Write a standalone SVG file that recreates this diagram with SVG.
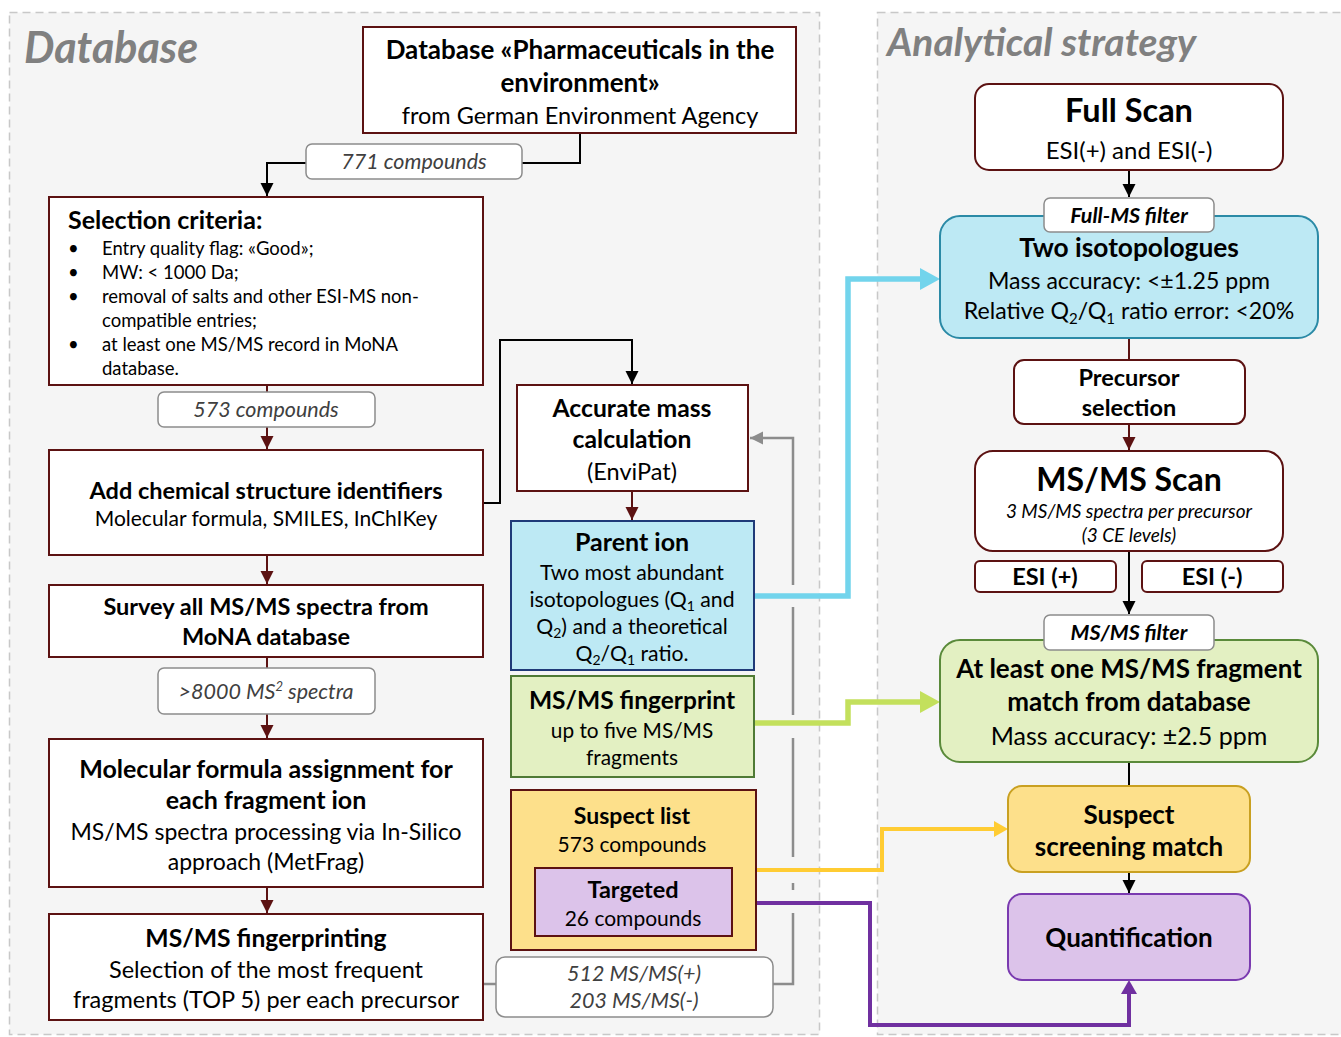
<svg xmlns="http://www.w3.org/2000/svg" width="1341" height="1037" viewBox="0 0 1341 1037">
<style>
text{font-family:Lato,"Open Sans","Liberation Sans",sans-serif;fill:#000;text-anchor:middle}
.b{font-weight:bold}
.i{font-style:italic}
.lbl{font-style:italic;fill:#404040;font-size:21.5px}
.title{font-weight:bold;font-style:italic;fill:#808080;text-anchor:start}
.box{fill:#fff;stroke:#5c1212;stroke-width:2}
.lbox{fill:#fff;stroke:#8c8c8c;stroke-width:1.5}
.panel{fill:#f5f5f5;stroke:#c8c8c8;stroke-width:1.5;stroke-dasharray:8 5}
.ck{fill:none;stroke:#000;stroke-width:2}
.cr{fill:none;stroke:#5c1212;stroke-width:2}
.cg{fill:none;stroke:#8c8c8c;stroke-width:2.5}
.l{text-anchor:start}
</style>
<defs>
<marker id="ak" markerUnits="userSpaceOnUse" markerWidth="14" markerHeight="14" refX="13" refY="7" orient="auto"><path d="M0,0.5 L13,7 L0,13.5 z" fill="#000"/></marker>
<marker id="ar" markerUnits="userSpaceOnUse" markerWidth="14" markerHeight="14" refX="13" refY="7" orient="auto"><path d="M0,0.5 L13,7 L0,13.5 z" fill="#5c1212"/></marker>
<marker id="ag" markerUnits="userSpaceOnUse" markerWidth="14" markerHeight="14" refX="13" refY="7" orient="auto"><path d="M0,0.5 L13,7 L0,13.5 z" fill="#8c8c8c"/></marker>
<marker id="ab" markerUnits="userSpaceOnUse" markerWidth="22" markerHeight="22" refX="0" refY="11" orient="auto"><path d="M0,0 L20,11 L0,22 z" fill="#72d4ec"/></marker>
<marker id="agr" markerUnits="userSpaceOnUse" markerWidth="22" markerHeight="22" refX="0" refY="11" orient="auto"><path d="M0,0 L20,11 L0,22 z" fill="#c3e05c"/></marker>
<marker id="ay" markerUnits="userSpaceOnUse" markerWidth="22" markerHeight="22" refX="0" refY="9" orient="auto"><path d="M0,1 L14,9 L0,17 z" fill="#ffcc33"/></marker>
<marker id="ap" markerUnits="userSpaceOnUse" markerWidth="22" markerHeight="22" refX="0" refY="9" orient="auto"><path d="M0,1 L14,9 L0,17 z" fill="#7030a0"/></marker>
</defs>

<rect width="1341" height="1037" fill="#fff"/>
<rect class="panel" x="9.5" y="12.5" width="810" height="1022"/>
<rect class="panel" x="877.5" y="12.5" width="480" height="1022"/>
<text class="title" x="24" y="63" font-size="43">Database</text>
<text class="title" x="887" y="56" font-size="39">Analytical strategy</text>

<g id="connectors">
<path class="ck" d="M580,133 V163 H267 V196" marker-end="url(#ak)"/>
<path class="cr" d="M267,385 V449" marker-end="url(#ar)"/>
<path class="ck" d="M483,503 H500 V340 H632 V384" marker-end="url(#ak)"/>
<path class="cr" d="M267,555 V584" marker-end="url(#ar)"/>
<path class="cr" d="M267,657 V738" marker-end="url(#ar)"/>
<path class="cr" d="M267,887 V913" marker-end="url(#ar)"/>
<path class="cr" d="M632,491 V520" marker-end="url(#ar)"/>
<path class="cg" d="M483,984 H497"/>
<path class="cg" d="M773,984 H793 V913"/>
<path class="cg" d="M793,890 V883"/>
<path class="cg" d="M793,857 V738"/>
<path class="cg" d="M793,715 V607"/>
<path class="cg" d="M793,585 V438 H750" marker-end="url(#ag)"/>
<path d="M754,596 H848 V279 H920" fill="none" stroke="#72d4ec" stroke-width="5.5" marker-end="url(#ab)"/>
<path d="M754,723 H848 V702 H920" fill="none" stroke="#c3e05c" stroke-width="5.5" marker-end="url(#agr)"/>
<path d="M756,870 H882 V829 H994" fill="none" stroke="#ffcc33" stroke-width="4" marker-end="url(#ay)"/>
<path d="M732,903 H870 V1025 H1129 V994" fill="none" stroke="#7030a0" stroke-width="4" marker-end="url(#ap)"/>
<path class="ck" d="M1129,170 V197" marker-end="url(#ak)"/>
<path class="cr" d="M1129,338 V360"/>
<path class="cr" d="M1129,424 V450" marker-end="url(#ar)"/>
<path class="ck" d="M1129,551 V614" marker-end="url(#ak)"/>
<path class="ck" d="M1129,762 V786"/>
<path class="ck" d="M1129,872 V893" marker-end="url(#ak)"/>
</g>

<g id="db-source">
<rect class="box" x="363" y="27" width="433" height="106"/>
<text class="b" x="580" y="59" font-size="26">Database «Pharmaceuticals in the</text>
<text class="b" x="580" y="92" font-size="26">environment»</text>
<text x="580" y="124" font-size="23.5">from German Environment Agency</text>
</g>
<g id="lbl-771">
<rect class="lbox" x="306" y="144" width="216" height="35" rx="6"/>
<text class="lbl" x="414" y="169">771 compounds</text>
</g>
<g id="selection">
<rect class="box" x="49" y="197" width="434" height="188"/>
<text class="b l" x="68" y="229" font-size="25">Selection criteria:</text>
<g font-size="18.5">
<text class="l" x="68" y="255">•</text><text class="l" x="102" y="255">Entry quality flag: «Good»;</text>
<text class="l" x="68" y="279">•</text><text class="l" x="102" y="279">MW: &lt; 1000 Da;</text>
<text class="l" x="68" y="303">•</text><text class="l" x="102" y="303">removal of salts and other ESI-MS non-</text>
<text class="l" x="102" y="327">compatible entries;</text>
<text class="l" x="68" y="351">•</text><text class="l" x="102" y="351">at least one MS/MS record in MoNA</text>
<text class="l" x="102" y="375">database.</text>
</g>
</g>
<g id="lbl-573">
<rect class="lbox" x="158" y="392" width="217" height="35" rx="6"/>
<text class="lbl" x="266" y="417">573 compounds</text>
</g>
<g id="add-ids">
<rect class="box" x="49" y="450" width="434" height="105"/>
<text class="b" x="266" y="499" font-size="23.5">Add chemical structure identifiers</text>
<text x="266" y="526" font-size="21">Molecular formula, SMILES, InChIKey</text>
</g>
<g id="survey">
<rect class="box" x="49" y="585" width="434" height="72"/>
<text class="b" x="266" y="615" font-size="23.5">Survey all MS/MS spectra from</text>
<text class="b" x="266" y="645" font-size="23.5">MoNA database</text>
</g>
<g id="lbl-8000">
<rect class="lbox" x="158" y="668" width="217" height="46" rx="6"/>
<text class="lbl" x="266" y="699">&gt;8000 MS<tspan font-size="13" dy="-8">2</tspan><tspan dy="8"> spectra</tspan></text>
</g>
<g id="formula">
<rect class="box" x="49" y="739" width="434" height="148"/>
<text class="b" x="266" y="778" font-size="25">Molecular formula assignment for</text>
<text class="b" x="266" y="809" font-size="25">each fragment ion</text>
<text x="266" y="840" font-size="23">MS/MS spectra processing via In-Silico</text>
<text x="266" y="870" font-size="23">approach (MetFrag)</text>
</g>
<g id="fingerprinting">
<rect class="box" x="49" y="914" width="434" height="106"/>
<text class="b" x="266" y="947" font-size="24.7">MS/MS fingerprinting</text>
<text x="266" y="978" font-size="23.5">Selection of the most frequent</text>
<text x="266" y="1008" font-size="23.5">fragments (TOP 5) per each precursor</text>
</g>
<g id="lbl-msms">
<rect class="lbox" x="496" y="957" width="277" height="60" rx="9"/>
<text class="lbl" x="634" y="981">512 MS/MS(+)</text>
<text class="lbl" x="634" y="1008">203 MS/MS(-)</text>
</g>
<g id="accurate-mass">
<rect class="box" x="517" y="385" width="231" height="106"/>
<text class="b" x="632" y="417" font-size="24.7">Accurate mass</text>
<text class="b" x="632" y="448" font-size="24.7">calculation</text>
<text x="632" y="480" font-size="23.5">(EnviPat)</text>
</g>
<g id="parent-ion">
<rect x="511" y="521" width="243" height="149" fill="#bde9f4" stroke="#1f3a78" stroke-width="2"/>
<text class="b" x="632" y="551" font-size="25">Parent ion</text>
<g font-size="21.2">
<text x="632" y="580">Two most abundant</text>
<text x="632" y="607">isotopologues (Q<tspan font-size="14" dy="4">1</tspan><tspan dy="-4"> and</tspan></text>
<text x="632" y="634">Q<tspan font-size="14" dy="4">2</tspan><tspan dy="-4">) and a theoretical</tspan></text>
<text x="632" y="661">Q<tspan font-size="14" dy="4">2</tspan><tspan dy="-4">/Q</tspan><tspan font-size="14" dy="4">1</tspan><tspan dy="-4"> ratio.</tspan></text>
</g>
</g>
<g id="msms-fingerprint">
<rect x="511" y="676" width="243" height="101" fill="#e3f0c2" stroke="#4f7a35" stroke-width="2"/>
<text class="b" x="632" y="709" font-size="24.5">MS/MS fingerprint</text>
<text x="632" y="738" font-size="20.8">up to five MS/MS</text>
<text x="632" y="765" font-size="20.8">fragments</text>
</g>
<g id="suspect-list">
<rect x="511" y="790" width="245" height="160" fill="#fde08b" stroke="#5c1212" stroke-width="2"/>
<text class="b" x="632" y="824" font-size="23">Suspect list</text>
<text x="632" y="852" font-size="21">573 compounds</text>
</g>
<g id="targeted">
<rect x="535" y="868" width="197" height="68" fill="#dcc3ea" stroke="#5c1212" stroke-width="2"/>
<text class="b" x="633" y="898" font-size="23.5">Targeted</text>
<text x="633" y="926" font-size="21">26 compounds</text>
</g>

<g id="full-scan">
<rect class="box" x="975" y="84" width="308" height="86" rx="14"/>
<text class="b" x="1129" y="122" font-size="32.5">Full Scan</text>
<text x="1129" y="159" font-size="24">ESI(+) and ESI(-)</text>
</g>
<g id="two-iso">
<rect x="940" y="216" width="378" height="122" rx="20" fill="#bde9f4" stroke="#2b8aa6" stroke-width="2"/>
<text class="b" x="1129" y="257" font-size="26.3">Two isotopologues</text>
<text x="1129" y="289" font-size="23.1">Mass accuracy: &lt;±1.25 ppm</text>
<text x="1129" y="319" font-size="23.1">Relative Q<tspan font-size="15" dy="5">2</tspan><tspan dy="-5">/Q</tspan><tspan font-size="15" dy="5">1</tspan><tspan dy="-5"> ratio error: &lt;20%</tspan></text>
</g>
<g id="lbl-fullms">
<rect class="lbox" x="1044" y="198" width="170" height="34" rx="6"/>
<text class="b i" x="1129" y="223" font-size="21.5">Full-MS filter</text>
</g>
<g id="precursor">
<rect class="box" x="1014" y="360" width="231" height="64" rx="10"/>
<text class="b" x="1129" y="386" font-size="23.5">Precursor</text>
<text class="b" x="1129" y="416" font-size="23.5">selection</text>
</g>
<g id="msms-scan">
<rect class="box" x="975" y="451" width="308" height="100" rx="18"/>
<text class="b" x="1129" y="491" font-size="32">MS/MS Scan</text>
<text class="i" x="1129" y="518" font-size="19">3 MS/MS spectra per precursor</text>
<text class="i" x="1129" y="542" font-size="19">(3 CE levels)</text>
</g>
<g id="esi-pos">
<rect class="box" x="975" y="561" width="141" height="31" rx="5"/>
<text class="b" x="1045" y="585" font-size="23.5">ESI (+)</text>
</g>
<g id="esi-neg">
<rect class="box" x="1142" y="561" width="141" height="31" rx="5"/>
<text class="b" x="1212" y="585" font-size="23.5">ESI (-)</text>
</g>
<g id="fragment-match">
<rect x="940" y="640" width="378" height="122" rx="20" fill="#e3f0c2" stroke="#5a8a3a" stroke-width="2"/>
<text class="b" x="1129" y="678" font-size="26">At least one MS/MS fragment</text>
<text class="b" x="1129" y="711" font-size="26">match from database</text>
<text x="1129" y="745" font-size="25">Mass accuracy: ±2.5 ppm</text>
</g>
<g id="lbl-msmsfilter">
<rect class="lbox" x="1044" y="615" width="170" height="35" rx="6"/>
<text class="b i" x="1129" y="640" font-size="21.5">MS/MS filter</text>
</g>
<g id="suspect-match">
<rect x="1008" y="786" width="242" height="86" rx="14" fill="#fde08b" stroke="#c9a021" stroke-width="2"/>
<text class="b" x="1129" y="824" font-size="26">Suspect</text>
<text class="b" x="1129" y="856" font-size="26">screening match</text>
</g>
<g id="quantification">
<rect x="1008" y="894" width="242" height="86" rx="14" fill="#dcc3ea" stroke="#7a3ab0" stroke-width="2"/>
<text class="b" x="1129" y="947" font-size="26">Quantification</text>
</g>
</svg>
